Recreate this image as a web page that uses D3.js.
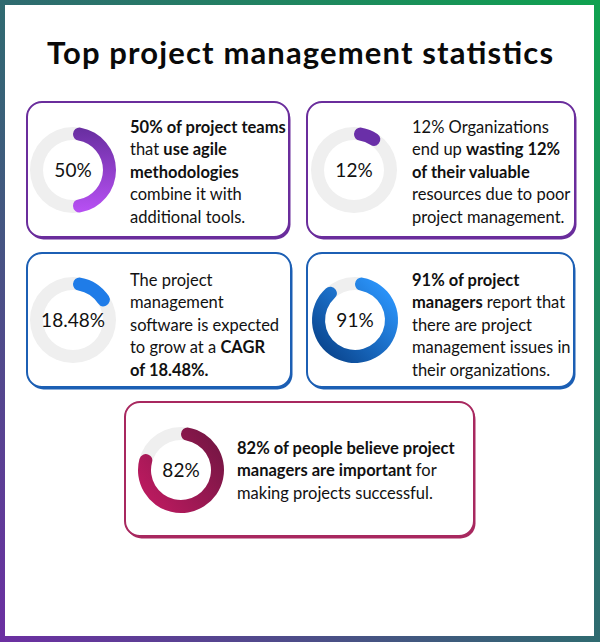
<!DOCTYPE html>
<html><head><meta charset="utf-8">
<script src="https://cdn.jsdelivr.net/npm/d3@7"></script>
<style>
html,body{margin:0;padding:0;background:#fff;}
svg{display:block;}
</style></head>
<body>
<script>
const title = "Top project management statistics";
const values = [50, 12, 18.48, 91, 82];
const valueLabels = ["50%", "12%", "18.48%", "91%", "82%"];
// each line: array of [text, bold]
const cardLines = [
  [[["50% of project teams", true]], [["that ", false], ["use agile", true]], [["methodologies", true]], [["combine it with", false]], [["additional tools.", false]]],
  [[["12% Organizations", false]], [["end up ", false], ["wasting 12%", true]], [["of their valuable", true]], [["resources due to poor", false]], [["project management.", false]]],
  [[["The project", false]], [["management", false]], [["software is expected", false]], [["to grow at a ", false], ["CAGR", true]], [["of 18.48%.", true]]],
  [[["91% of project", true]], [["managers", true], [" report that", false]], [["there are project", false]], [["management issues in", false]], [["their organizations.", false]]],
  [[["82% of people believe project", true]], [["managers are important", true], [" for", false]], [["making projects successful.", false]]]
];
const borderColors = ["#6a2d9c", "#6a2d9c", "#1c5fb4", "#1c5fb4", "#a8285f"];
const arcColors = [["#6a2fa2", "#b64ff2"], ["#6a2fa8", "#6a2fa8"], ["#1f7ce8", "#1f7ce8"], ["#2a92f8", "#0b4892"], ["#761644", "#b81a5e"]];

const W = 600, H = 642;
const svg = d3.select("body").append("svg").attr("width", W).attr("height", H);
const defs = svg.append("defs");

// outer gradient frame
const fg = defs.append("linearGradient").attr("id", "frame").attr("x1", 0).attr("y1", 1).attr("x2", 1).attr("y2", 0);
fg.append("stop").attr("offset", 0).attr("stop-color", "#6c2fa2");
fg.append("stop").attr("offset", 0.5).attr("stop-color", "#2f6a70");
fg.append("stop").attr("offset", 1).attr("stop-color", "#0fa24f");
svg.append("rect").attr("x", 0).attr("y", 0).attr("width", W).attr("height", H).attr("fill", "url(#frame)");
svg.append("rect").attr("x", 5).attr("y", 5).attr("width", W - 11).attr("height", H - 11).attr("fill", "#fff");

svg.append("text").attr("x", 47).attr("y", 64)
  .attr("font-family", "Lato, sans-serif").attr("font-weight", 700).attr("font-size", 31)
  .attr("textLength", 506).attr("lengthAdjust", "spacing")
  .attr("fill", "#0a0a0a").text(title);

const cards = [
  {x: 27, y: 102, w: 262, h: 135, cx: 73, cy: 170, tx: 130, ty: 133},
  {x: 307, y: 102, w: 268, h: 135, cx: 354, cy: 170, tx: 412, ty: 133},
  {x: 27, y: 253, w: 264, h: 134, cx: 73, cy: 320, tx: 130, ty: 286},
  {x: 307, y: 253, w: 267, h: 134, cx: 355, cy: 320, tx: 412, ty: 286},
  {x: 125, y: 402, w: 349, h: 134, cx: 181, cy: 470, tx: 237, ty: 454}
];
const lineH = 22.4;

const arc = d3.arc().innerRadius(30).outerRadius(43).cornerRadius(6.5).startAngle(0);
const angle = d3.scaleLinear().domain([0, 100]).range([0, 2 * Math.PI]);

// gradient vectors in the donut's local coordinates
const gradDirs = [[0, -40, 0, 40], [30, -30, -30, 30], [30, -30, -30, 30], [30, -30, -30, 30], [35, -30, -35, 20]];

cards.forEach((c, i) => {
  const g = svg.append("g");
  // shadow
  g.append("rect").attr("x", c.x + 1.5).attr("y", c.y + 2.5).attr("width", c.w).attr("height", c.h)
    .attr("rx", 15).attr("fill", borderColors[i]);
  g.append("rect").attr("x", c.x).attr("y", c.y).attr("width", c.w).attr("height", c.h)
    .attr("rx", 15).attr("fill", "#fff").attr("stroke", borderColors[i]).attr("stroke-width", 2);

  const gid = "ag" + i;
  const d = gradDirs[i];
  const lg = defs.append("linearGradient").attr("id", gid).attr("gradientUnits", "userSpaceOnUse")
    .attr("x1", d[0]).attr("y1", d[1]).attr("x2", d[2]).attr("y2", d[3]);
  lg.append("stop").attr("offset", 0).attr("stop-color", arcColors[i][0]);
  lg.append("stop").attr("offset", 1).attr("stop-color", arcColors[i][1]);

  const dg = g.append("g").attr("transform", `translate(${c.cx},${c.cy})`);
  dg.append("path").attr("d", arc.endAngle(2 * Math.PI)()).attr("fill", "#efefef");
  dg.append("path").attr("d", arc.endAngle(angle(values[i]))()).attr("fill", `url(#${gid})`);
  dg.append("text").attr("y", 6.5).attr("text-anchor", "middle")
    .attr("font-family", "Lato, sans-serif").attr("font-size", 19).attr("fill", "#111")
    .text(valueLabels[i]);

  cardLines[i].forEach((line, li) => {
    const t = g.append("text").attr("x", c.tx).attr("y", c.ty + li * lineH)
      .attr("font-family", "Lato, sans-serif").attr("font-size", 16.5).attr("fill", "#111")
      .attr("xml:space", "preserve");
    line.forEach(seg => {
      t.append("tspan").attr("font-weight", seg[1] ? 700 : 400).text(seg[0]);
    });
  });
});
</script>
</body></html>
